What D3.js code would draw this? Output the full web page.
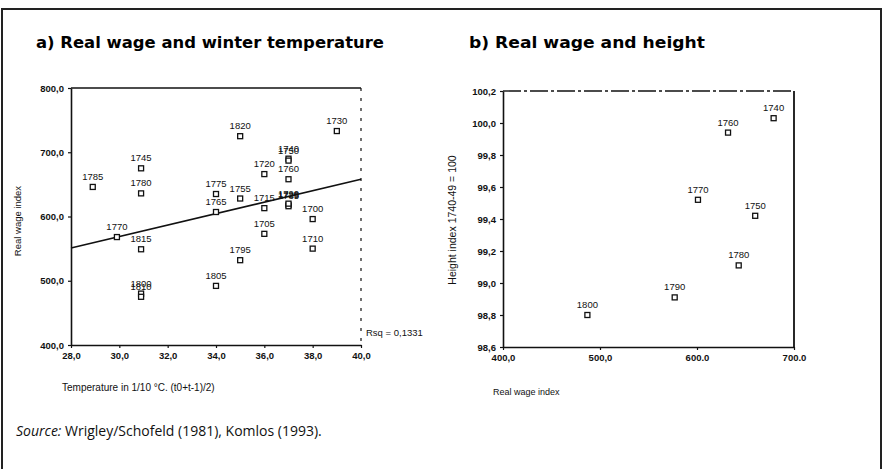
<!DOCTYPE html>
<html><head><meta charset="utf-8">
<script src="https://cdn.jsdelivr.net/npm/d3@7"></script>
<style>
html,body{margin:0;padding:0;background:#fff;}
svg{display:block;}
</style></head>
<body>
<script>
// ---------- DATA ----------
// Panel a: real wage vs winter temperature (5-year periods)
const aYears = [1700,1705,1710,1715,1720,1725,1730,1735,1740,1745,1750,1755,1760,1765,1770,1775,1780,1785,1790,1795,1800,1805,1810,1815,1820];
const aTemp  = [38.0,36.0,38.0,36.0,36.0,37.0,39.0,37.0,37.0,30.9,37.0,35.0,37.0,34.0,29.9,34.0,30.9,28.9,37.0,35.0,30.9,34.0,30.9,30.9,35.0];
const aWage  = [596, 573, 550, 613, 666, 618, 733, 616, 690, 675, 687, 628, 658, 607, 568, 635, 636, 646, 620, 532, 480, 492, 475, 549, 725];
const aFitTemp = [28, 40];
const aFitWage = [551, 658];
const aRsq = "Rsq = 0,1331";
const aXTicks = [28,30,32,34,36,38,40];
const aXTickLabels = ["28,0","30,0","32,0","34,0","36,0","38,0","40,0"];
const aYTicks = [400,500,600,700,800];
const aYTickLabels = ["400,0","500,0","600,0","700,0","800,0"];

// Panel b: real wage vs height (decades)
const bYears  = [1740,1750,1760,1770,1780,1790,1800];
const bWage   = [679, 660, 632, 601, 643, 577, 487];
const bHeight = [100.03, 99.42, 99.94, 99.52, 99.11, 98.91, 98.80];
const bXTicks = [400,500,600,700];
const bXTickLabels = ["400,0","500,0","600.0","700.0"];
const bYTicks = [98.6,98.8,99.0,99.2,99.4,99.6,99.8,100.0,100.2];
const bYTickLabels = ["98,6","98,8","99,0","99,2","99,4","99,6","99,8","100,0","100,2"];

// ---------- DRAW ----------
const W = 884, H = 469;
const svg = d3.select("body").append("svg").attr("width", W).attr("height", H);
const tickFont = "'Liberation Sans', Arial, sans-serif";

// outer frame
svg.append("path")
  .attr("d", `M2,${H} L2,9 L881,9 L881,${H}`)
  .attr("fill","none").attr("stroke","#222").attr("stroke-width",2);

// titles
svg.append("text").attr("x",36).attr("y",48)
  .attr("font-family","'DejaVu Sans', sans-serif").attr("font-weight","bold").attr("font-size",15)
  .attr("textLength",348).attr("lengthAdjust","spacingAndGlyphs")
  .text("a) Real wage and winter temperature");
svg.append("text").attr("x",469).attr("y",48)
  .attr("font-family","'DejaVu Sans', sans-serif").attr("font-weight","bold").attr("font-size",15)
  .attr("textLength",236).attr("lengthAdjust","spacingAndGlyphs")
  .text("b) Real wage and height");

function panel(opts){
  const g = svg.append("g");
  const x = d3.scaleLinear().domain(opts.xDomain).range(opts.xRange);
  const y = d3.scaleLinear().domain(opts.yDomain).range(opts.yRange);
  const [x0,x1] = opts.xRange, [y0,y1] = opts.yRange; // y0 bottom, y1 top

  // top & right borders
  g.append("line").attr("x1",x0).attr("x2",x1).attr("y1",y1).attr("y2",y1)
    .attr("stroke","#111").attr("stroke-width",opts.topWidth)
    .attr("stroke-dasharray",opts.topDash||null);
  g.append("line").attr("x1",x1).attr("x2",x1).attr("y1",y1).attr("y2",y0)
    .attr("stroke","#111").attr("stroke-width",opts.rightWidth)
    .attr("stroke-dasharray",opts.rightDash||null);

  // axes
  const xa = g.append("g").attr("transform",`translate(0,${y0})`)
    .call(d3.axisBottom(x).tickValues(opts.xTicks).tickSize(3).tickSizeOuter(0)
      .tickFormat((d,i)=>opts.xTickLabels[i]));
  const ya = g.append("g").attr("transform",`translate(${x0},0)`)
    .call(d3.axisLeft(y).tickValues(opts.yTicks).tickSize(3).tickSizeOuter(0)
      .tickFormat((d,i)=>opts.yTickLabels[i]));
  [xa,ya].forEach(a=>{
    a.select(".domain").attr("stroke","#111").attr("stroke-width",1.6);
    a.selectAll(".tick line").attr("stroke","#111").attr("stroke-width",1.2);
    a.selectAll(".tick text").attr("font-family",tickFont).attr("font-weight","bold")
      .attr("font-size",9.5).attr("fill","#111");
  });
  xa.selectAll(".tick text").attr("dy","0.85em");
  ya.selectAll(".tick text").attr("dx","-1");

  // extra marks (regression)
  if (opts.extra) opts.extra(g,x,y);

  // points
  const n = opts.years.length;
  const idx = d3.range(n);
  g.selectAll("rect.pt").data(idx).join("rect").attr("class","pt")
    .attr("x",i=>x(opts.xs[i])-2.5).attr("y",i=>y(opts.ys[i])-2.5)
    .attr("width",5).attr("height",5)
    .attr("fill","#fff").attr("stroke","#111").attr("stroke-width",1.3);
  g.selectAll("text.lbl").data(idx).join("text").attr("class","lbl")
    .attr("x",i=>x(opts.xs[i])).attr("y",i=>y(opts.ys[i])-7)
    .attr("text-anchor","middle")
    .attr("font-family",tickFont).attr("font-size",9.5).attr("fill","#111")
    .text(i=>opts.years[i]);
  return {x,y};
}

// Panel a
const pa = panel({
  xDomain:[28,40], xRange:[71,361], yDomain:[400,800], yRange:[345,88],
  xTicks:aXTicks, xTickLabels:aXTickLabels, yTicks:aYTicks, yTickLabels:aYTickLabels,
  topWidth:1.6, rightWidth:1.2, rightDash:"3,7",
  years:aYears, xs:aTemp, ys:aWage,
  extra:(g,x,y)=>{
    g.append("line")
      .attr("x1",x(aFitTemp[0])).attr("y1",y(aFitWage[0]))
      .attr("x2",x(aFitTemp[1])).attr("y2",y(aFitWage[1]))
      .attr("stroke","#111").attr("stroke-width",1.6);
  }
});
svg.append("text").attr("x",366).attr("y",336)
  .attr("font-family",tickFont).attr("font-size",9.5).attr("fill","#111").text(aRsq);
svg.append("text").attr("transform","translate(21,221) rotate(-90)")
  .attr("text-anchor","middle").attr("font-family",tickFont).attr("font-size",9.5).attr("fill","#111")
  .text("Real wage index");
svg.append("text").attr("x",62).attr("y",391)
  .attr("font-family",tickFont).attr("font-size",10).attr("fill","#111")
  .text("Temperature in 1/10 °C. (t0+t-1)/2)");

// Panel b
const pb = panel({
  xDomain:[400,700], xRange:[503,794], yDomain:[98.6,100.2], yRange:[347,91],
  xTicks:bXTicks, xTickLabels:bXTickLabels, yTicks:bYTicks, yTickLabels:bYTickLabels,
  topWidth:1.4, topDash:"18,3,3,3", rightWidth:1.8,
  years:bYears, xs:bWage, ys:bHeight
});
svg.append("text").attr("transform","translate(456,220) rotate(-90)")
  .attr("text-anchor","middle").attr("font-family",tickFont).attr("font-size",10.5).attr("fill","#111")
  .text("Height index 1740-49 = 100");
svg.append("text").attr("x",493).attr("y",395)
  .attr("font-family",tickFont).attr("font-size",9).attr("fill","#111")
  .text("Real wage index");

// source
const src = svg.append("text").attr("x",16).attr("y",436)
  .attr("font-family","'Open Sans', sans-serif").attr("font-size",14).attr("fill","#111");
src.append("tspan").attr("font-style","italic").text("Source:");
src.append("tspan").text(" Wrigley/Schofeld (1981), Komlos (1993).");
</script>
</body></html>
